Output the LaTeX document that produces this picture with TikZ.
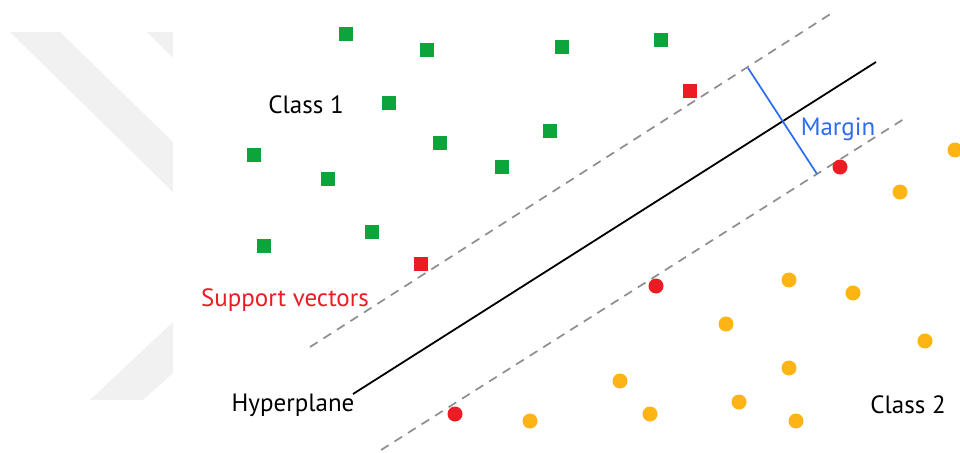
\documentclass[tikz,border=0pt]{standalone}
\usepackage{fontspec}
\setmainfont{PT Sans}
\begin{document}
\begin{tikzpicture}[x=1pt,y=-1pt,
  gsq/.style={fill=sqgreen,minimum size=14pt,inner sep=0pt},
  rsq/.style={fill=svred,minimum size=14pt,inner sep=0pt},
  ocirc/.style={circle,fill=dotorange,minimum size=15pt,inner sep=0pt},
  rcirc/.style={circle,fill=svred,minimum size=15pt,inner sep=0pt},
  marginline/.style={dashgray,line width=1.7pt,dash pattern=on 9pt off 7pt},
  lbl/.style={font=\fontsize{25}{30}\selectfont,anchor=base,inner sep=0pt}]
\definecolor{sqgreen}{HTML}{0CA53B}
\definecolor{svred}{HTML}{EC1C24}
\definecolor{dotorange}{HTML}{FDB515}
\definecolor{mblue}{HTML}{2C6BF2}
\definecolor{dashgray}{HTML}{8E8E8E}
\definecolor{wmgray}{HTML}{F1F1F1}
\useasboundingbox (0,0) rectangle (960,452);
\fill[white] (0,0) rectangle (960,452);
% faint background stripes
\fill[wmgray] (10,32) -- (60,32) -- (173,142) -- (173,192) -- cycle;
\fill[wmgray] (147,32) -- (173,32) -- (173,58) -- cycle;
\fill[wmgray] (90,400) -- (143,400) -- (173,373) -- (173,322) -- cycle;
% separating lines
\coordinate (hA) at (353,394);
\coordinate (hB) at (876,62);
\coordinate (uA) at (310,347);
\coordinate (uB) at (832,13);
\coordinate (lA) at (381,450);
\coordinate (lB) at (907,117);
\coordinate (mA) at (748,68);
\coordinate (mB) at (817,174);
\draw[marginline] (uA) -- (uB);
\draw[marginline] (lA) -- (lB);
\draw[black,line width=1.8pt] (hA) -- (hB);
\draw[mblue,line width=1.7pt] (mA) -- (mB);
% class 1 points
\node[gsq] (g1) at (346,34) {};
\node[gsq] (g2) at (427,50) {};
\node[gsq] (g3) at (562,47) {};
\node[gsq] (g4) at (661,40) {};
\node[gsq] (g5) at (389,103) {};
\node[gsq] (g6) at (440,143) {};
\node[gsq] (g7) at (550,131) {};
\node[gsq] (g8) at (254,155) {};
\node[gsq] (g9) at (328,179) {};
\node[gsq] (g10) at (502,167) {};
\node[gsq] (g11) at (264,246) {};
\node[gsq] (g12) at (372,232) {};
\node[rsq] (s1) at (690,91) {};
\node[rsq] (s2) at (421,264) {};
% class 2 points
\node[rcirc] (s3) at (840,167) {};
\node[rcirc] (s4) at (656,286) {};
\node[rcirc] (s5) at (455,414) {};
\node[ocirc] (o1) at (955,150) {};
\node[ocirc] (o2) at (900,192) {};
\node[ocirc] (o3) at (789,280) {};
\node[ocirc] (o4) at (853,293) {};
\node[ocirc] (o5) at (726,324) {};
\node[ocirc] (o6) at (925,341) {};
\node[ocirc] (o7) at (789,368) {};
\node[ocirc] (o8) at (620,381) {};
\node[ocirc] (o9) at (739,402) {};
\node[ocirc] (o10) at (650,414) {};
\node[ocirc] (o11) at (530,421) {};
\node[ocirc] (o12) at (796,421) {};
% labels
\node[lbl] (c1) at (306,113) {Class 1};
\node[lbl,text=svred] (sv) at (285,306) {Support vectors};
\node[lbl] (hp) at (293,411) {Hyperplane};
\node[lbl] (c2) at (908,413) {Class 2};
\node[lbl,text=mblue] (mg) at (838,135) {Margin};
\end{tikzpicture}
\end{document}
